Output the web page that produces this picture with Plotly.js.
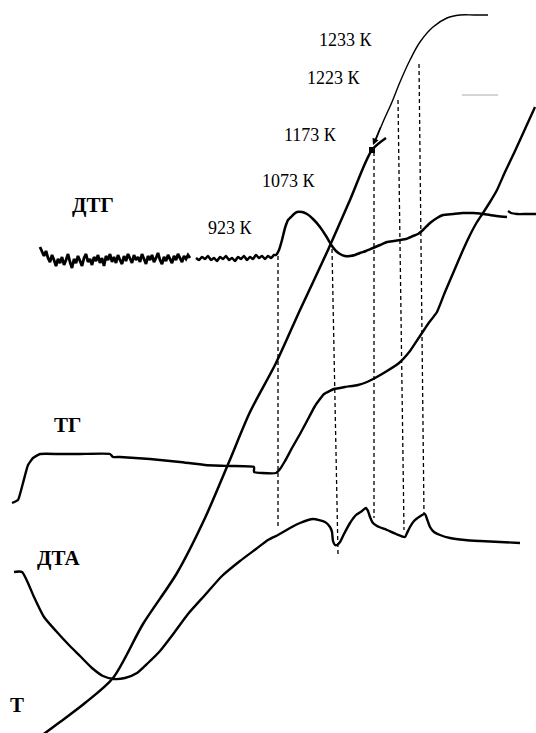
<!DOCTYPE html>
<html>
<head>
<meta charset="utf-8">
<script src="https://cdn.plot.ly/plotly-3.0.1.min.js"></script>
<style>html,body{margin:0;padding:0;background:#fff;}#chart{width:536px;height:733px;}</style>
</head>
<body>
<div id="chart"></div>
<script>
// ---- Data (picture coordinates) ----
// Temperature curve T
const tX = [41, 60, 85, 113, 143, 177, 205, 229, 250, 276, 300, 328, 350, 372, 386];
const tY = [736, 722, 703, 678, 624, 573, 518, 462, 412, 363, 310, 250, 200, 150, 138];

// Thin continuation of T up to 1233 K
const tThinX = [375, 383, 392, 400, 410, 420, 433, 447, 460, 474, 488];
const tThinY = [142, 122, 102, 82, 60, 42, 27, 18, 15, 15, 15];

// DTG noisy baseline (first part)
const dtgNoiseX = [40,42,44,46,48,50,52,54,56,58,60,62,64,66,68,70,72,74,76,78,80,82,84,86,88,90,92,94,96,98,100,102,104,106,108,110,112,114,116,118,120,122,124,126,128,130,132,134,136,138,140,142,144,146,148,150,152,154,156,158,160,162,164,166,168,170,172,174,176,178,180,182,184,186,188,190];
const dtgNoiseY = [247,252,256,251,258,262,255,260,266,259,263,257,265,260,254,262,268,259,263,256,261,266,258,254,262,259,265,257,261,255,263,258,266,256,260,254,262,257,263,255,260,264,256,261,254,259,263,255,260,257,262,254,259,264,256,260,255,262,258,253,260,264,257,261,255,259,263,256,260,254,259,262,256,259,255,258];

// DTG main curve
const dtgX = [196,199,202,205,208,211,214,217,220,223,226,229,232,235,238,241,244,247,250,253,256,259,262,265,268,271,274,276,279,282,285,288,291,294,297,302,307,313,320,326,332,336,340,345,350,355,360,366,373,380,387,394,400,406,413,418,423,430,437,443,453,463,473,483,490,497,507];
const dtgY = [258,260,257,259,256,260,258,261,257,259,256,260,258,261,257,259,256,260,257,259,255,258,256,259,256,258,255,255,250,240,228,220,217,214,212,212,214,219,227,236,246,251,254,256,256,255,253,251,248,245,242,241,240,239,236,234,230,223,218,215,214,213,213,214,215,216,217];

// DTG tail segment at right edge
const dtgTailX = [508, 511, 517, 526, 536];
const dtgTailY = [211, 213, 214, 214, 214];

// TG curve
const tgX = [12,18,23,28,33,40,60,80,110,113,120,150,180,205,230,254,254,262,276,280,285,292,300,307,315,324,334,345,358,367,375,387,399,410,420,428,437,445,454,463,470,477,483,490,497,505,515,525,535];
const tgY = [503,500,483,465,458,454,454,454,454,457,457,459,462,465,466,467,472,473,473,469,461,448,434,421,406,394,389,387,385,382,378,371,363,351,336,324,312,292,271,250,235,222,213,202,190,172,151,129,107];

// DTA curve
const dtaX = [14,22,34,44,56,68,80,92,103,114,125,137,148,160,174,188,205,222,240,256,268,278,290,300,313,325,330,332,333,335,337,340,344,350,356,362,366,368,370,373,377,387,396,405,407,410,414,419,425,427,430,434,440,450,465,480,500,520];
const dtaY = [572,572,597,617,631,644,656,668,676,679,678,673,663,651,633,614,595,576,561,549,540,535,528,523,519,522,527,532,541,545,545,542,534,523,515,511,508,511,517,523,526,530,534,537,533,527,521,517,514,519,527,532,535,538,540,541,542,543];

// Dashed marker lines (top -> bottom)
const dash1X = [278, 278], dash1Y = [256, 528];
const dash2X = [332, 338], dash2Y = [249, 554];
const dash3X = [374, 374], dash3Y = [152, 518];
const dash4X = [398, 404], dash4Y = [100, 530];
const dash5X = [419, 424], dash5Y = [64, 515];

// Faint grey stroke
const greyX = [462, 498], greyY = [95, 95];

// Temperature labels
const tempLabels = ["1233 К", "1223 К", "1173 К", "1073 К", "923 К"];
const curveLabels = ["ДТГ", "ТГ", "ДТА", "Т"];

// ---- Traces ----
const black = "#000";
function line(x, y, w, shape, smooth) {
  const ln = {color: black, width: w, shape: shape || "linear"};
  if (smooth !== undefined) ln.smoothing = smooth;
  return {x: x, y: y, type: "scatter", mode: "lines", hoverinfo: "skip", line: ln};
}
function dashed(x, y) {
  return {x: x, y: y, type: "scatter", mode: "lines", hoverinfo: "skip",
    line: {color: black, width: 1.3, dash: "4px,3px"}};
}
const traces = [
  {x: greyX, y: greyY, type: "scatter", mode: "lines", hoverinfo: "skip", line: {color: "#d4d4d4", width: 2}},
  dashed(dash1X, dash1Y), dashed(dash2X, dash2Y), dashed(dash3X, dash3Y),
  dashed(dash4X, dash4Y), dashed(dash5X, dash5Y),
  line(dtgNoiseX, dtgNoiseY, 2.8),
  line(dtgX, dtgY, 2.5, "spline", 0.5),
  line(dtgTailX, dtgTailY, 2.3, "spline", 0.5),
  line(tgX, tgY, 2.4, "spline", 0.4),
  line(dtaX, dtaY, 2.4, "spline", 0.6),
  line(tX, tY, 2.5, "spline", 0.8),
  line(tThinX, tThinY, 1.4, "spline", 1),
  {x: [tX[13]], y: [tY[13]], type: "scatter", mode: "markers", hoverinfo: "skip",
   marker: {symbol: "square", size: 6, color: black}}
];

const serif = "Liberation Serif, Times New Roman, serif";
const tempPos = [[317, 40], [305, 78], [282, 135], [260, 181], [206, 228]];
const curvePos = [[70, 205], [52, 425], [35, 558], [8, 705]];
const annotations = [];
tempLabels.forEach((t, i) => annotations.push({
  x: tempPos[i][0], y: tempPos[i][1], xref: "x", yref: "y", text: t, showarrow: false,
  xanchor: "left", yanchor: "middle", font: {family: serif, size: 18, color: black}
}));
curveLabels.forEach((t, i) => annotations.push({
  x: curvePos[i][0], y: curvePos[i][1], xref: "x", yref: "y", text: "<b>" + t + "</b>", showarrow: false,
  xanchor: "left", yanchor: "middle", font: {family: serif, size: 21, color: black}
}));
// small arrowhead of the thin line
annotations.push({x: 373, y: 145, ax: 381, ay: 126, xref: "x", yref: "y", axref: "x", ayref: "y",
  text: "", showarrow: true, arrowhead: 2, arrowsize: 1, arrowwidth: 1.3, arrowcolor: black});

const layout = {
  width: 536, height: 733,
  margin: {l: 0, r: 0, t: 0, b: 0},
  paper_bgcolor: "#fff", plot_bgcolor: "#fff",
  showlegend: false,
  xaxis: {range: [0, 536], visible: false, fixedrange: true},
  yaxis: {range: [733, 0], visible: false, fixedrange: true},
  annotations: annotations
};
Plotly.newPlot("chart", traces, layout, {staticPlot: true, displayModeBar: false});
</script>
</body>
</html>
